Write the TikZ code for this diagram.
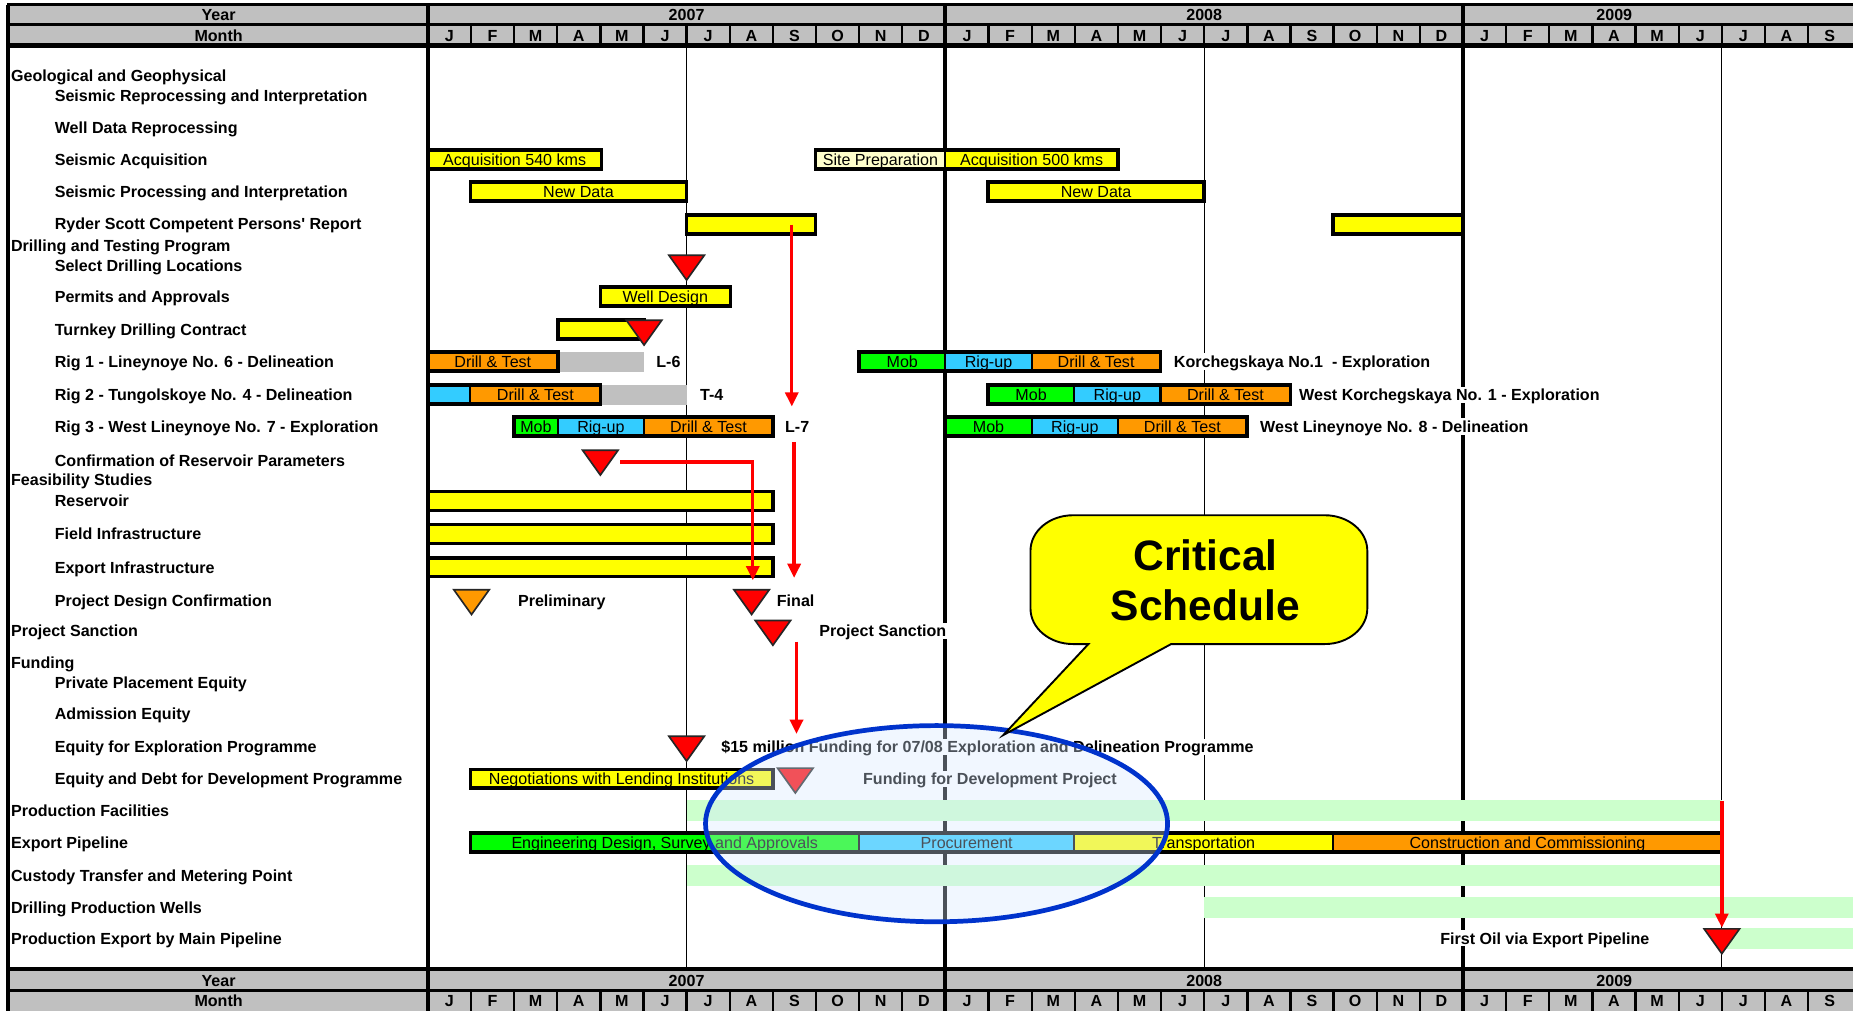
\documentclass[tikz,border=0pt]{standalone}
\usepackage{fontspec}
\setmainfont{Liberation Sans}
\usetikzlibrary{arrows.meta}
\definecolor{cyel}{HTML}{FFFF00}
\definecolor{corg}{HTML}{FF9900}
\definecolor{cgrn}{HTML}{00FF00}
\definecolor{ccyn}{HTML}{33CCFF}
\definecolor{cgry}{HTML}{C0C0C0}
\definecolor{clgr}{HTML}{CCFFCC}
\definecolor{cpale}{HTML}{FFFFCC}
\definecolor{cred}{HTML}{FF0000}
\definecolor{cblue}{HTML}{0033CC}
\definecolor{cellip}{HTML}{D7E9FF}

\newcommand{\barseg}[6]{%
  \draw[segline,fill=#5] (#2,#4-8) rectangle (#3,#4+8);
  \node[btxt] (#1) at ({(#2+#3)/2},#4) {#6};}
\newcommand{\barframe}[3]{\draw[frameline] (#1,#3-8) rectangle (#2,#3+8);}
\newcommand{\milestone}[4]{%
  \draw[tribox,fill=#4] (#2-15,#3-9) -- (#2+15,#3-9) -- (#2,#3+12) -- cycle;
  \coordinate (#1) at (#2,#3);}
\newcommand{\hdrband}[6]{%
  \fill[cgry] (7,#2) rectangle (1570,#4);
  \foreach \k in {1,...,32}{%
    \pgfmathtruncatemacro{\mm}{mod(\k,12)}%
    \ifnum\mm=0\relax\else\draw[line width=1pt] ({362+36.5*\k},#3) -- ({362+36.5*\k},#4);\fi}
  \draw[line width=1.75pt] (7,#2) -- (7,#4) (362,#2) -- (362,#4) (800,#2) -- (800,#4) (1238,#2) -- (1238,#4);
  \draw[line width=1.5pt] (6,#2) -- (1570,#2);
  \draw[line width=1.1pt] (6,#3) -- (1570,#3);
  \draw[line width=1.75pt] (6,#4) -- (1570,#4);
  \node[htxt] (#1yr) at (185,#5) {Year};
  \node[htxt] (#1mo) at (185,#6) {Month};
  \node[htxt] (#1ya) at (581,#5) {2007};
  \node[htxt] (#1yb) at (1019,#5) {2008};
  \node[htxt] (#1yc) at (1366,#5) {2009};
  \foreach \l [count=\k from 0] in {J,F,M,A,M,J,J,A,S,O,N,D,J,F,M,A,M,J,J,A,S,O,N,D,J,F,M,A,M,J,J,A,S}
    \node[htxt] (#1m\k) at ({380.25+36.5*\k},#6) {\l};
}

\begin{document}
\begin{tikzpicture}[x=0.5pt,y=-0.5pt,
  lbl/.style={font=\bfseries\fontsize{6.8}{8}\selectfont, anchor=west, inner sep=0pt, text height=4.9pt, text depth=0pt},
  clbl/.style={font=\bfseries\fontsize{6.8}{8}\selectfont, anchor=west, inner sep=1pt, fill=white, text height=4.9pt, text depth=0pt},
  btxt/.style={font=\fontsize{6.8}{8}\selectfont, inner sep=0pt, text height=4.9pt, text depth=0pt},
  htxt/.style={font=\bfseries\fontsize{6.8}{8}\selectfont, inner sep=0pt, text height=4.9pt, text depth=0pt},
  segline/.style={draw=black, line width=0.9pt},
  frameline/.style={draw=black, line width=1.5pt},
  tribox/.style={draw=black!85, line width=0.7pt, line join=miter},
  redarrow/.style={draw=cred, line width=1.4pt, -{Triangle[length=6pt,width=5.5pt]}},
  callout/.style={fill=cyel, draw=black, line width=0.8pt, line join=miter},
  thickgrid/.style={line width=1.75pt},
  thingrid/.style={line width=0.55pt}]

\useasboundingbox (0,0) rectangle (1568,855);
\fill[white] (0,0) rectangle (1568,855);

% body grid lines
\draw[thickgrid] (7,38) -- (7,820) (362,38) -- (362,820) (800,38) -- (800,820) (1238,38) -- (1238,820);
\draw[thingrid] (581,38) -- (581,820) (1019,38) -- (1019,820) (1457,38) -- (1457,820);

% row labels
\node[lbl] (r01) at (9,64) {Geological and Geophysical};
\node[lbl] (r02) at (46,81) {Seismic Reprocessing and Interpretation};
\node[lbl] (r03) at (46,108) {Well Data Reprocessing};
\node[lbl] (r04) at (46,135) {Seismic Acquisition};
\node[lbl] (r05) at (46,162) {Seismic Processing and Interpretation};
\node[lbl] (r06) at (46,189) {Ryder Scott Competent Persons\textquotesingle\ Report};
\node[lbl] (r07) at (9,208) {Drilling and Testing Program};
\node[lbl] (r08) at (46,225) {Select Drilling Locations};
\node[lbl] (r09) at (46,251) {Permits and Approvals};
\node[lbl] (r10) at (46,279) {Turnkey Drilling Contract};
\node[lbl] (r11) at (46,306) {Rig 1 - Lineynoye No. 6 - Delineation};
\node[lbl] (r12) at (46,334) {Rig 2 - Tungolskoye No. 4 - Delineation};
\node[lbl] (r13) at (46,361) {Rig 3 - West Lineynoye No. 7 - Exploration};
\node[lbl] (r14) at (46,390) {Confirmation of Reservoir Parameters};
\node[lbl] (r15) at (9,406) {Feasibility Studies};
\node[lbl] (r16) at (46,424) {Reservoir};
\node[lbl] (r17) at (46,452) {Field Infrastructure};
\node[lbl] (r18) at (46,480) {Export Infrastructure};
\node[lbl] (r19) at (46,508) {Project Design Confirmation};
\node[lbl] (r20) at (9,534) {Project Sanction};
\node[lbl] (r21) at (9,561) {Funding};
\node[lbl] (r22) at (46,578) {Private Placement Equity};
\node[lbl] (r23) at (46,604) {Admission Equity};
\node[lbl] (r24) at (46,632) {Equity for Exploration Programme};
\node[lbl] (r25) at (46,659) {Equity and Debt for Development Programme};
\node[lbl] (r26) at (9,686) {Production Facilities};
\node[lbl] (r27) at (9,713) {Export Pipeline};
\node[lbl] (r28) at (9,741) {Custody Transfer and Metering Point};
\node[lbl] (r29) at (9,768) {Drilling Production Wells};
\node[lbl] (r30) at (9,794) {Production Export by Main Pipeline};

% plain bars
\fill[clgr] (581,677) rectangle (1457,695);
\fill[clgr] (581,732) rectangle (1457,750);
\fill[clgr] (1019,759) rectangle (1568,777);
\fill[clgr] (1457,785) rectangle (1568,803);
\fill[cgry] (472,298) rectangle (545,315);
\fill[cgry] (508,326) rectangle (581,343);

% seismic
\barseg{acq1}{362}{509}{135}{cyel}{Acquisition 540 kms}\barframe{362}{509}{135}
\barseg{site}{690}{800}{135}{cpale}{Site Preparation}
\barseg{acq2}{800}{946}{135}{cyel}{Acquisition 500 kms}\barframe{690}{946}{135}
\barseg{nd1}{398}{581}{162}{cyel}{New Data}\barframe{398}{581}{162}
\barseg{nd2}{836}{1019}{162}{cyel}{New Data}\barframe{836}{1019}{162}
\barseg{rs1}{581}{690}{190}{cyel}{}\barframe{581}{690}{190}
\barseg{rs2}{1128}{1238}{190}{cyel}{}\barframe{1128}{1238}{190}

% drilling
\barseg{wd}{508}{618}{251}{cyel}{Well Design}\barframe{508}{618}{251}
\barseg{tk}{472}{545}{279}{cyel}{}\barframe{472}{545}{279}

\barseg{ra1}{362}{472}{306}{corg}{Drill \& Test}\barframe{362}{472}{306}
\barseg{rb1}{727}{800}{306}{cgrn}{Mob}
\barseg{rb2}{800}{873}{306}{ccyn}{Rig-up}
\barseg{rb3}{873}{982}{306}{corg}{Drill \& Test}\barframe{727}{982}{306}

\barseg{rc1}{362}{398}{334}{ccyn}{}
\barseg{rc2}{398}{508}{334}{corg}{Drill \& Test}\barframe{362}{508}{334}
\barseg{rd1}{836}{909}{334}{cgrn}{Mob}
\barseg{rd2}{909}{982}{334}{ccyn}{Rig-up}
\barseg{rd3}{982}{1092}{334}{corg}{Drill \& Test}\barframe{836}{1092}{334}

\barseg{re1}{435}{472}{361}{cgrn}{Mob}
\barseg{re2}{472}{545}{361}{ccyn}{Rig-up}
\barseg{re3}{545}{654}{361}{corg}{Drill \& Test}\barframe{435}{654}{361}
\barseg{rf1}{800}{873}{361}{cgrn}{Mob}
\barseg{rf2}{873}{946}{361}{ccyn}{Rig-up}
\barseg{rf3}{946}{1055}{361}{corg}{Drill \& Test}\barframe{800}{1055}{361}

% feasibility
\barseg{fs1}{362}{654}{424}{cyel}{}\barframe{362}{654}{424}
\barseg{fs2}{362}{654}{452}{cyel}{}\barframe{362}{654}{452}
\barseg{fs3}{362}{654}{480}{cyel}{}\barframe{362}{654}{480}

% funding
\barseg{neg}{398}{654}{659}{cyel}{Negotiations with Lending Institutions}\barframe{398}{654}{659}

% export pipeline
\barseg{ep1}{398}{727}{713}{cgrn}{Engineering Design, Survey and Approvals}
\barseg{ep2}{727}{909}{713}{ccyn}{Procurement}
\barseg{ep3}{909}{1128}{713}{cyel}{Transportation}
\barseg{ep4}{1128}{1457}{713}{corg}{Construction and Commissioning}\barframe{398}{1457}{713}

% milestones
\milestone{ms1}{581}{225}{cred}
\milestone{ms2}{545}{280}{cred}
\milestone{ms3}{508}{390}{cred}
\milestone{ms4}{399}{508}{corg}
\milestone{ms5}{636}{508}{cred}
\milestone{ms6}{654}{534}{cred}
\milestone{ms7}{581}{632}{cred}
\milestone{ms8}{673}{659}{cred}
\milestone{ms9}{1457}{795}{cred}

% chart labels
\node[clbl] (t1) at (553,306) {L-6};
\node[clbl] (t2) at (590,334) {T-4};
\node[clbl] (t3) at (662,361) {L-7};
\node[clbl] (t4) at (991,306) {Korchegskaya No.1\ \ - Exploration};
\node[clbl] (t5) at (1097,334) {West Korchegskaya No. 1 - Exploration};
\node[clbl] (t6) at (1064,361) {West Lineynoye No. 8 - Delineation};
\node[clbl] (t7) at (436,508) {Preliminary};
\node[clbl] (t8) at (655,508) {Final};
\node[clbl] (t9) at (691,534) {Project Sanction};
\node[clbl] (t10) at (608,632) {\$15 million Funding for 07/08 Exploration and Delineation Programme};
\node[clbl] (t11) at (728,659) {Funding for Development Project};
\node[clbl,anchor=east] (t12) at (1398,794) {First Oil via Export Pipeline};

% red arrows
\coordinate (a1s) at (670,190); \coordinate (a1e) at (670,344);
\coordinate (a2s) at (525,391); \coordinate (a2e) at (637,491);
\coordinate (a3s) at (672,374); \coordinate (a3e) at (672,489);
\coordinate (a4s) at (674,543); \coordinate (a4e) at (674,621);
\coordinate (a5s) at (1457,678); \coordinate (a5e) at (1457,785);
\draw[redarrow] (a1s) -- (a1e);
\draw[redarrow] (a2s) -| (a2e);
\draw[redarrow] (a3s) -- (a3e);
\draw[redarrow] (a4s) -- (a4e);
\draw[redarrow] (a5s) -- (a5e);

% ellipse
\draw[draw=cblue, line width=2pt, fill=cellip, fill opacity=0.35] (792.5,697) ellipse [x radius=195.5, y radius=83];

% callout
\draw[callout] (921,545) -- (849,622) -- (991,545) -- (1121,545) .. controls (1140.9,545) and (1157,531.6) .. (1157,515) -- (1157,466) .. controls (1157,449.4) and (1140.9,436) .. (1121,436) -- (908,436) .. controls (888.1,436) and (872,449.4) .. (872,466) -- (872,515) .. controls (872,531.6) and (888.1,545) .. (908,545) -- cycle;
\node[align=center, inner sep=0pt, font=\bfseries\fontsize{18}{21.5}\selectfont] (crit) at (1020,491) {Critical\\Schedule};

% headers
\hdrband{top}{4}{20.5}{38.5}{12.5}{30}
\hdrband{bot}{820}{838}{858}{829.5}{847}
\end{tikzpicture}
\end{document}
